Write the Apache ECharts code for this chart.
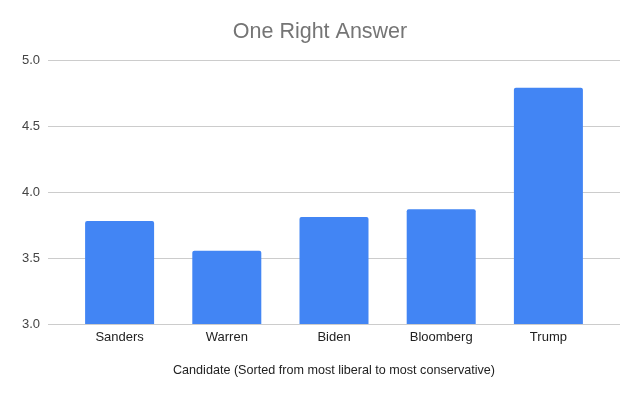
<!DOCTYPE html>
<html><head><meta charset="utf-8">
<script src="https://cdn.jsdelivr.net/npm/echarts@6/dist/echarts.min.js"></script>
<style>html,body{margin:0;padding:0;background:#fff}#c{width:640px;height:396px}</style>
</head><body><div id="c"></div>
<script>
const categories = ["Sanders", "Warren", "Biden", "Bloomberg", "Trump"];
const values = [3.78, 3.555, 3.81, 3.87, 4.79];
const yTicks = [3.0, 3.5, 4.0, 4.5, 5.0];
const titleText = "One Right Answer";
const xAxisTitle = "Candidate (Sorted from most liberal to most conservative)";

const font = "Liberation Sans, Arial, sans-serif";
const chart = echarts.init(document.getElementById('c'), null, {renderer: 'canvas'});
chart.setOption({
  animation: false,
  title: {text: titleText, left: 'center', top: 16, textStyle: {fontFamily: font, fontSize: 21.5, fontWeight: 'normal', color: '#757575'}},
  grid: [
    {left: 48, right: 20, top: 60, bottom: 72},
    {left: 66, right: 38, top: 60, bottom: 72}
  ],
  xAxis: [
    {gridIndex: 0, type: 'category', data: categories, show: false},
    {gridIndex: 1, type: 'category', data: categories,
     axisLine: {show: false}, axisTick: {show: false},
     axisLabel: {fontFamily: font, fontSize: 13, color: '#222', margin: 7},
     name: xAxisTitle, nameLocation: 'middle', nameGap: 40,
     nameTextStyle: {fontFamily: font, fontSize: 12.6, color: '#222'}}
  ],
  yAxis: [
    {gridIndex: 0, type: 'value', min: yTicks[0], max: yTicks[yTicks.length - 1], interval: 0.5,
     axisLine: {show: false}, axisTick: {show: false},
     axisLabel: {fontFamily: font, fontSize: 13, color: '#444', margin: 8, formatter: v => v.toFixed(1)},
     splitLine: {lineStyle: {color: '#cccccc', width: 1}}},
    {gridIndex: 1, type: 'value', min: yTicks[0], max: yTicks[yTicks.length - 1], interval: 0.5, show: false, splitLine: {show: false}}
  ],
  series: [{
    type: 'bar', xAxisIndex: 1, yAxisIndex: 1, data: values, barWidth: 69,
    itemStyle: {color: '#4285F4', borderRadius: [2, 2, 0, 0]}
  }]
});
</script></body></html>
